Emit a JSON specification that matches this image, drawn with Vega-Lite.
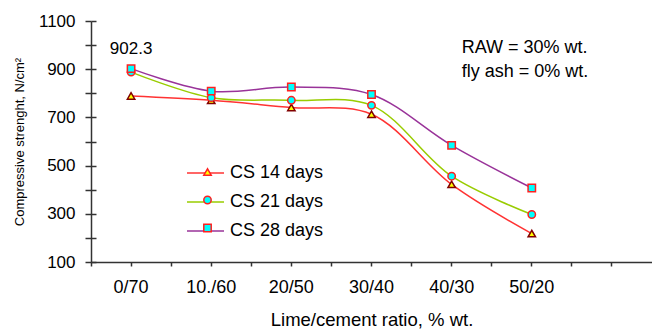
{
  "$schema": "https://vega.github.io/schema/vega-lite/v6.json",
  "autosize": {"type": "none"},
  "padding": {"left": 91, "top": 21, "right": 0, "bottom": 69},
  "width": 561,
  "height": 241,
  "background": "white",
  "config": {
    "font": "Liberation Sans",
    "view": {"stroke": null},
    "axis": {"grid": false, "labelColor": "#000000", "titleColor": "#000000", "labelFont": "Liberation Sans", "titleFont": "Liberation Sans", "titleFontWeight": "normal"},
    "legend": {"labelFont": "Liberation Sans", "labelColor": "#000000"}
  },
  "data": {
    "values": [
      {"ratio": "0/70", "series": "CS 14 days", "value": 789},
      {"ratio": "10./60", "series": "CS 14 days", "value": 771},
      {"ratio": "20/50", "series": "CS 14 days", "value": 741},
      {"ratio": "30/40", "series": "CS 14 days", "value": 713},
      {"ratio": "40/30", "series": "CS 14 days", "value": 422},
      {"ratio": "50/20", "series": "CS 14 days", "value": 218},
      {"ratio": "0/70", "series": "CS 21 days", "value": 888},
      {"ratio": "10./60", "series": "CS 21 days", "value": 782},
      {"ratio": "20/50", "series": "CS 21 days", "value": 771},
      {"ratio": "30/40", "series": "CS 21 days", "value": 750},
      {"ratio": "40/30", "series": "CS 21 days", "value": 456},
      {"ratio": "50/20", "series": "CS 21 days", "value": 297},
      {"ratio": "0/70", "series": "CS 28 days", "value": 902.3},
      {"ratio": "10./60", "series": "CS 28 days", "value": 809},
      {"ratio": "20/50", "series": "CS 28 days", "value": 826},
      {"ratio": "30/40", "series": "CS 28 days", "value": 795},
      {"ratio": "40/30", "series": "CS 28 days", "value": 584},
      {"ratio": "50/20", "series": "CS 28 days", "value": 407}
    ]
  },
  "resolve": {"axis": {"x": "independent", "y": "independent"}},
  "layer": [
    {
      "mark": {"type": "line", "interpolate": "catmull-rom", "strokeWidth": 1.5},
      "encoding": {
        "x": {
          "field": "ratio", "type": "nominal", "sort": null,
          "scale": {"type": "band", "domain": ["0/70", "10./60", "20/50", "30/40", "40/30", "50/20", " "], "paddingInner": 0, "paddingOuter": 0},
          "axis": {"orient": "bottom", "title": "Lime/cement ratio, % wt.", "titleFontSize": 18.5, "titlePadding": 14, "labelFontSize": 18, "labelPadding": 12, "labelAngle": 0, "tickSize": 4, "tickColor": "#333333", "tickWidth": 1.5, "domainColor": "#333333", "domainWidth": 1.5, "labelExpr": "datum.value === ' ' ? '' : datum.label"}
        },
        "y": {
          "field": "value", "type": "quantitative",
          "scale": {"domain": [100, 1100], "nice": false, "zero": false},
          "axis": {"orient": "left", "title": "Compressive strenght, N/cm²", "titleFontSize": 13, "titlePadding": 12, "labelFontSize": 17, "labelPadding": 10, "tickSize": 6, "tickColor": "#333333", "tickWidth": 1.5, "domainColor": "#333333", "domainWidth": 1.5, "values": [100, 200, 300, 400, 500, 600, 700, 800, 900, 1000, 1100], "labelExpr": "(datum.value - 100) % 200 === 0 ? datum.label : ''", "format": "d"}
        },
        "stroke": {
          "field": "series", "type": "nominal",
          "scale": {"range": ["#ff3333", "#99cc00", "#993399"]},
          "legend": {"orient": "none", "legendX": 95, "legendY": 132.5, "padding": 0, "title": null, "symbolType": "stroke", "symbolSize": 1369, "symbolStrokeWidth": 1.5, "labelFontSize": 18, "labelOffset": 5, "rowPadding": -8.7}
        }
      }
    },
    {
      "mark": {"type": "point", "filled": true, "strokeWidth": 1.5, "opacity": 1},
      "encoding": {
        "x": {
          "field": "ratio", "type": "nominal", "sort": null,
          "scale": {"type": "band", "domain": ["0/70", "10./60", "20/50", "30/40", "40/30", "50/20", " "], "paddingInner": 0, "paddingOuter": 0},
          "axis": {"orient": "bottom", "title": null, "labels": false, "domain": false, "tickSize": 4, "tickColor": "#333333", "tickWidth": 1.5, "bandPosition": 0}
        },
        "y": {
          "field": "value", "type": "quantitative",
          "scale": {"domain": [100, 1100], "nice": false, "zero": false},
          "axis": {"title": null, "orient": "left", "labels": false, "domain": false, "tickSize": -5, "tickColor": "#333333", "tickWidth": 1.5, "values": [100, 200, 300, 400, 500, 600, 700, 800, 900, 1000, 1100]}
        },
        "shape": {
          "field": "series", "type": "nominal",
          "scale": {"domain": ["CS 14 days", "CS 21 days", "CS 28 days"], "range": ["triangle-up", "circle", "square"]},
          "legend": {"orient": "none", "legendX": 107.5, "legendY": 142, "padding": 0, "title": null, "symbolSize": 55, "labelFontSize": 18, "labelExpr": "''", "rowPadding": 10, "symbolStrokeWidth": 1.5,
            "encode": {"symbols": {"update": {"stroke": {"signal": "datum.label === 'CS 14 days' ? '#800000' : '#ff2020'"}, "strokeWidth": {"value": 1.5}}}}}
        },
        "fill": {
          "field": "series", "type": "nominal",
          "scale": {"domain": ["CS 14 days", "CS 21 days", "CS 28 days"], "range": ["#ffff00", "#00ffff", "#00ffff"]},
          "legend": {"orient": "none", "legendX": 107.5, "legendY": 142, "padding": 0, "title": null, "symbolSize": 55, "labelFontSize": 18, "labelExpr": "''", "rowPadding": 10}
        },
        "size": {"value": 55},
        "stroke": {"condition": {"test": "datum.series === 'CS 14 days'", "value": "#800000"}, "value": "#ff2020"}
      }
    },
    {
      "transform": [{"filter": "datum.series === 'CS 28 days' && datum.ratio === '0/70'"}],
      "mark": {"type": "text", "fontSize": 17, "dy": -20, "color": "#000000"},
      "encoding": {
        "x": {"field": "ratio", "type": "nominal", "scale": {"type": "band", "domain": ["0/70", "10./60", "20/50", "30/40", "40/30", "50/20", " "], "paddingInner": 0, "paddingOuter": 0}, "axis": null},
        "y": {"field": "value", "type": "quantitative", "scale": {"domain": [100, 1100], "nice": false, "zero": false}, "axis": null},
        "text": {"field": "value", "type": "quantitative", "format": ".1f"}
      }
    },
    {
      "data": {"values": [{"note": "RAW = 30% wt.", "at": "40/30", "level": 987}, {"note": "fly ash = 0% wt.", "at": "40/30", "level": 887}]},
      "mark": {"type": "text", "fontSize": 18, "align": "left", "dx": 10, "color": "#000000"},
      "encoding": {
        "x": {"field": "at", "type": "nominal", "scale": {"type": "band", "domain": ["0/70", "10./60", "20/50", "30/40", "40/30", "50/20", " "], "paddingInner": 0, "paddingOuter": 0}, "axis": null},
        "y": {"field": "level", "type": "quantitative", "scale": {"domain": [100, 1100], "nice": false, "zero": false}, "axis": null},
        "text": {"field": "note", "type": "nominal"}
      }
    }
  ]
}
